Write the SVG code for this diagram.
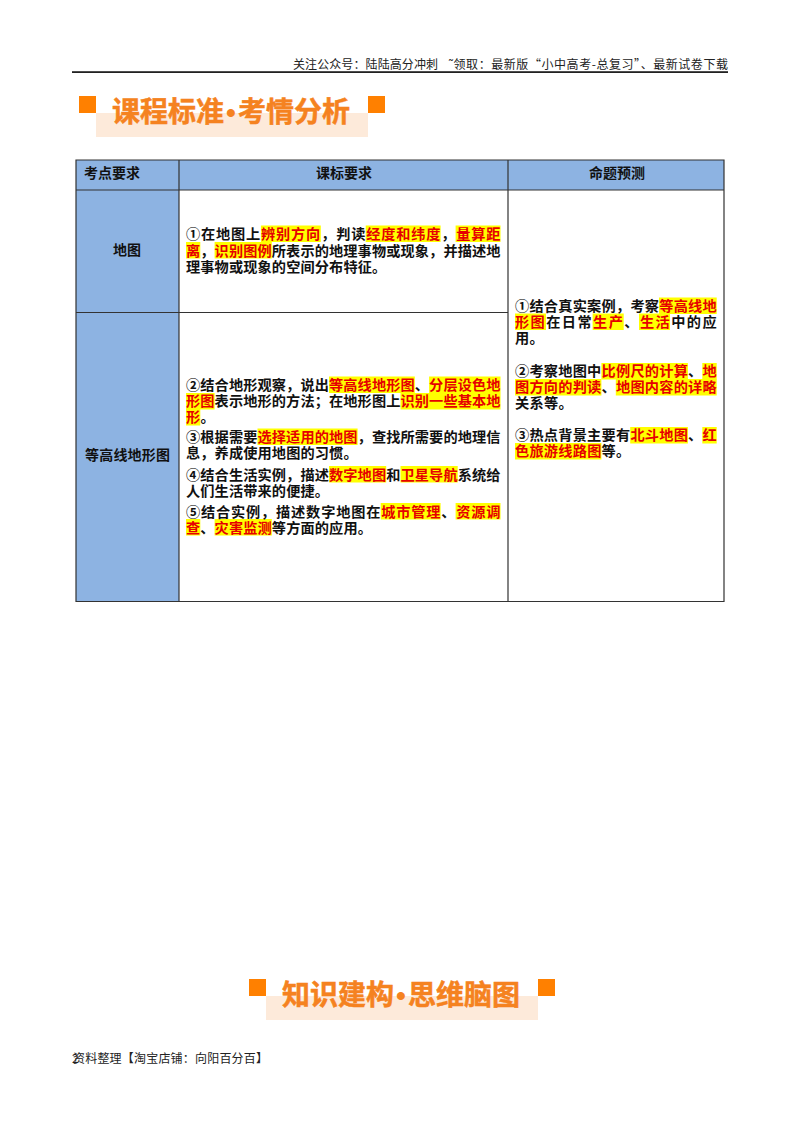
<svg xmlns="http://www.w3.org/2000/svg" width="800" height="1132" viewBox="0 0 800 1132">
<style>
text{font-family:"Noto Sans CJK SC","Liberation Sans",sans-serif;}
.b{font-size:14.2px;font-weight:700;fill:#111;}
.r{fill:#e60000;}
.h{fill:#ffff00;}
.th{font-size:14px;font-weight:700;fill:#111;}
.blue{fill:#8db3e2;}
.ln{stroke:#333;stroke-width:1.2;fill:none;}
.sq{fill:#ff8000;}
.band{fill:#fdeada;}
.title{font-size:28px;font-weight:700;fill:#f58220;stroke:#f58220;stroke-width:.5;}
.dot{font-family:"Liberation Sans",sans-serif;font-size:28px;font-weight:700;fill:#f58220;text-anchor:middle;}
.small{font-size:12px;fill:#222;}
</style>
<rect width="800" height="1132" fill="#fff"/>
<g id="header">
<text class="small" x="293" y="69" textLength="145" lengthAdjust="spacing">关注公众号：陆陆高分冲刺</text>
<text class="small" x="449" y="69" textLength="279" lengthAdjust="spacing">˜领取：最新版“小中高考-总复习”、最新试卷下载</text>
<rect x="72" y="71.2" width="656" height="1.8" fill="#222"/>
</g>
<g id="title-1">
<rect class="band" x="96" y="113" width="272" height="24"/>
<rect class="sq" x="79" y="96" width="17" height="17"/>
<rect class="sq" x="368" y="96" width="17" height="17"/>
<text class="title" x="112" y="122">课程标准</text>
<text class="dot" x="231" y="122">•</text>
<text class="title" x="238" y="122">考情分析</text>
</g>
<g id="table">
<rect class="blue" x="76" y="160" width="648" height="30"/>
<rect class="blue" x="76" y="190" width="103" height="411.5"/>
<path class="ln" d="M76 160H724V601.5H76ZM76 190H724M76 312.5H508M179 160V601.5M508 160V601.5"/>
<text class="th" x="84" y="178" textLength="56" lengthAdjust="spacing">考点要求</text>
<text class="th" x="316" y="178" textLength="56" lengthAdjust="spacing">课标要求</text>
<text class="th" x="589" y="178" textLength="56" lengthAdjust="spacing">命题预测</text>
<text class="th" x="113" y="255" textLength="28" lengthAdjust="spacing">地图</text>
<text class="th" x="85" y="460" textLength="85" lengthAdjust="spacing">等高线地形图</text>
</g>
<g id="cell-1">
<rect class="h" x="260.9" y="225.5" width="59.9" height="16.5"/>
<rect class="h" x="365.7" y="225.5" width="74.9" height="16.5"/>
<rect class="h" x="455.6" y="225.5" width="44.9" height="16.5"/>
<rect class="h" x="186" y="242" width="14.3" height="16.5"/>
<rect class="h" x="214.6" y="242" width="57.2" height="16.5"/>
<text class="b" x="186" y="239" textLength="314.5" lengthAdjust="spacing">①在地图上<tspan class="r">辨别方向</tspan>，判读<tspan class="r">经度和纬度</tspan>，<tspan class="r">量算距</tspan></text>
<text class="b" x="186" y="256" textLength="314.5" lengthAdjust="spacing"><tspan class="r">离</tspan>，<tspan class="r">识别图例</tspan>所表示的地理事物或现象，并描述地</text>
<text class="b" x="186" y="272" textLength="200.2" lengthAdjust="spacing">理事物或现象的空间分布特征。</text>
</g>
<g id="cell-2">
<rect class="h" x="329" y="376.5" width="85.8" height="16.5"/>
<rect class="h" x="429.1" y="376.5" width="71.4" height="16.5"/>
<rect class="h" x="186" y="393" width="28.6" height="16.5"/>
<rect class="h" x="400.5" y="393" width="100" height="16.5"/>
<rect class="h" x="186" y="409" width="14.3" height="16.5"/>
<rect class="h" x="257.5" y="428.5" width="100.1" height="16.5"/>
<rect class="h" x="329" y="466" width="57.2" height="16.5"/>
<rect class="h" x="400.5" y="466" width="57.2" height="16.5"/>
<rect class="h" x="380.7" y="503" width="59.9" height="16.5"/>
<rect class="h" x="455.6" y="503" width="44.9" height="16.5"/>
<rect class="h" x="186" y="519" width="14.3" height="16.5"/>
<rect class="h" x="214.6" y="519" width="57.2" height="16.5"/>
<text class="b" x="186" y="390" textLength="314.5" lengthAdjust="spacing">②结合地形观察，说出<tspan class="r">等高线地形图</tspan>、<tspan class="r">分层设色地</tspan></text>
<text class="b" x="186" y="406" textLength="314.5" lengthAdjust="spacing"><tspan class="r">形图</tspan>表示地形的方法；在地形图上<tspan class="r">识别一些基本地</tspan></text>
<text class="b" x="186" y="422" textLength="28.6" lengthAdjust="spacing"><tspan class="r">形</tspan>。</text>
<text class="b" x="186" y="442" textLength="314.5" lengthAdjust="spacing">③根据需要<tspan class="r">选择适用的地图</tspan>，查找所需要的地理信</text>
<text class="b" x="186" y="458" textLength="171.6" lengthAdjust="spacing">息，养成使用地图的习惯。</text>
<text class="b" x="186" y="479.5" textLength="314.5" lengthAdjust="spacing">④结合生活实例，描述<tspan class="r">数字地图</tspan>和<tspan class="r">卫星导航</tspan>系统给</text>
<text class="b" x="186" y="495.5" textLength="143" lengthAdjust="spacing">人们生活带来的便捷。</text>
<text class="b" x="186" y="517" textLength="314.5" lengthAdjust="spacing">⑤结合实例，描述数字地图在<tspan class="r">城市管理</tspan>、<tspan class="r">资源调</tspan></text>
<text class="b" x="186" y="533" textLength="185.9" lengthAdjust="spacing"><tspan class="r">查</tspan>、<tspan class="r">灾害监测</tspan>等方面的应用。</text>
</g>
<g id="cell-3">
<rect class="h" x="659" y="297.5" width="57.7" height="16.5"/>
<rect class="h" x="515" y="313.5" width="31" height="16.5"/>
<rect class="h" x="592.6" y="313.5" width="31.1" height="16.5"/>
<rect class="h" x="639" y="313.5" width="31" height="16.5"/>
<rect class="h" x="601.4" y="363" width="86.5" height="16.5"/>
<rect class="h" x="702.3" y="363" width="14.4" height="16.5"/>
<rect class="h" x="515" y="379" width="86.4" height="16.5"/>
<rect class="h" x="615.8" y="379" width="100.9" height="16.5"/>
<rect class="h" x="630.2" y="427" width="57.7" height="16.5"/>
<rect class="h" x="702.3" y="427" width="14.4" height="16.5"/>
<rect class="h" x="515" y="443" width="86.4" height="16.5"/>
<text class="b" x="515" y="311" textLength="201.7" lengthAdjust="spacing">①结合真实案例，考察<tspan class="r">等高线地</tspan></text>
<text class="b" x="515" y="327" textLength="201.7" lengthAdjust="spacing"><tspan class="r">形图</tspan>在日常<tspan class="r">生产</tspan>、<tspan class="r">生活</tspan>中的应</text>
<text class="b" x="515" y="343" textLength="28.8" lengthAdjust="spacing">用。</text>
<text class="b" x="515" y="376" textLength="201.7" lengthAdjust="spacing">②考察地图中<tspan class="r">比例尺的计算</tspan>、<tspan class="r">地</tspan></text>
<text class="b" x="515" y="392" textLength="201.7" lengthAdjust="spacing"><tspan class="r">图方向的判读</tspan>、<tspan class="r">地图内容的详略</tspan></text>
<text class="b" x="515" y="408" textLength="57.6" lengthAdjust="spacing">关系等。</text>
<text class="b" x="515" y="440" textLength="201.7" lengthAdjust="spacing">③热点背景主要有<tspan class="r">北斗地图</tspan>、<tspan class="r">红</tspan></text>
<text class="b" x="515" y="456" textLength="115.2" lengthAdjust="spacing"><tspan class="r">色旅游线路图</tspan>等。</text>
</g>
<g id="title-2">
<rect class="band" x="266" y="996" width="272" height="24"/>
<rect class="sq" x="249" y="979" width="17" height="17"/>
<rect class="sq" x="538" y="979" width="17" height="17"/>
<text class="title" x="282" y="1005">知识建构</text>
<text class="dot" x="401" y="1005">•</text>
<text class="title" x="408" y="1005">思维脑图</text>
</g>
<g id="footer">
<text class="small" x="72" y="1063">2</text>
<text class="small" x="73" y="1063" textLength="195" lengthAdjust="spacing">资料整理【淘宝店铺：向阳百分百】</text>
</g>
</svg>
